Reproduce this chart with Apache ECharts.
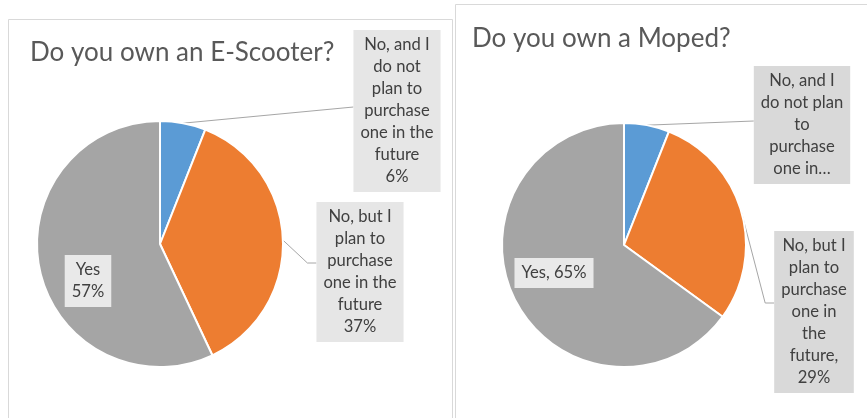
<!DOCTYPE html>
<html><head><meta charset="utf-8">
<script src="https://cdn.jsdelivr.net/npm/echarts@6/dist/echarts.min.js"></script>
<style>html,body{margin:0;padding:0;background:#fff}#c{width:867px;height:418px}</style>
</head><body><div id="c"></div>
<script>
const titles = ['Do you own an E-Scooter?', 'Do you own a Moped?'];
const categories = ['No, and I do not plan to purchase one in the future', 'No, but I plan to purchase one in the future', 'Yes'];
const colors = ['#5b9bd5', '#ed7d31', '#a5a5a5'];
const scooterValues = [6, 37, 57];
const mopedValues = [6, 29, 65];
// label text as wrapped in the reference
const scooterLabelText = ['No, and I\ndo not\nplan to\npurchase\none in the\nfuture\n6%', 'No, but I\nplan to\npurchase\none in the\nfuture\n37%', 'Yes\n57%'];
const mopedLabelText = ['No, and I\ndo not plan\nto\npurchase\none in…', 'No, but I\nplan to\npurchase\none in\nthe\nfuture,\n29%', 'Yes, 65%'];

const scooterLabelPos = [[397, 111], [360, 272], [88, 281]];
const mopedLabelPos = [[802, 125], [814, 312], [554, 273]];
const guideKind = ['straight', 'elbow', 'none'];
const font = 'Lato, "Open Sans", sans-serif';

function makeData(values, bg) {
  return values.map((v, i) => ({
    name: categories[i], value: v,
    itemStyle: { color: colors[i] },
    label: i === 2 ? { position: 'inside', backgroundColor: '#e9e9e9' } : { backgroundColor: bg },
    labelLine: { show: i !== 2 }
  }));
}
function makeSeries(values, texts, pos, center, radius, bg) {
  return {
    type: 'pie', center: center, radius: radius, startAngle: 90, clockwise: true,
    avoidLabelOverlap: false, animation: false, silent: true,
    itemStyle: { borderColor: '#fff', borderWidth: 2 },
    label: {
      show: true, position: 'outside', color: '#404040', fontFamily: font, fontSize: 16.6,
      lineHeight: 22, align: 'center', padding: [4, 7],
      formatter: p => texts[p.dataIndex]
    },
    labelLine: { show: true, length: 10, length2: 10, lineStyle: { color: '#a6a6a6', width: 1 } },
    labelLayout: p => {
      const c = pos[p.dataIndex];
      const res = { x: c[0], y: c[1], align: 'center', verticalAlign: 'middle' };
      const pts = p.labelLinePoints;
      if (pts && guideKind[p.dataIndex] !== 'none') {
        const left = c[0] - p.labelRect.width / 2;
        const s = pts[0];
        res.labelLinePoints = guideKind[p.dataIndex] === 'straight'
          ? [[s[0], s[1]], [left, c[1] - 4]]
          : [[s[0], s[1]], [left - 9, c[1] - 9], [left, c[1] - 9]];
      }
      return res;
    },
    data: makeData(values, bg)
  };
}
const chart = echarts.init(document.getElementById('c'), null, { renderer: 'canvas' });
chart.setOption({
  backgroundColor: '#fff',
  title: [
    { text: titles[0], left: 30, top: 40, padding: 0, textStyle: { fontFamily: font, fontSize: 26, fontWeight: 'normal', color: '#595959' } },
    { text: titles[1], left: 472, top: 26, padding: 0, textStyle: { fontFamily: font, fontSize: 26, fontWeight: 'normal', color: '#595959' } }
  ],
  graphic: [
    { type: 'rect', shape: { x: 8.5, y: 19.5, width: 444, height: 420 }, style: { fill: 'none', stroke: '#d9d9d9', lineWidth: 1 }, z: -1 },
    { type: 'rect', shape: { x: 455.5, y: 4.5, width: 430, height: 430 }, style: { fill: 'none', stroke: '#d9d9d9', lineWidth: 1 }, z: -1 }
  ],
  series: [
    makeSeries(scooterValues, scooterLabelText, scooterLabelPos, [160, 244], 123, '#e6e6e6'),
    makeSeries(mopedValues, mopedLabelText, mopedLabelPos, [624, 245], 122, '#d9d9d9')
  ]
});
</script></body></html>
